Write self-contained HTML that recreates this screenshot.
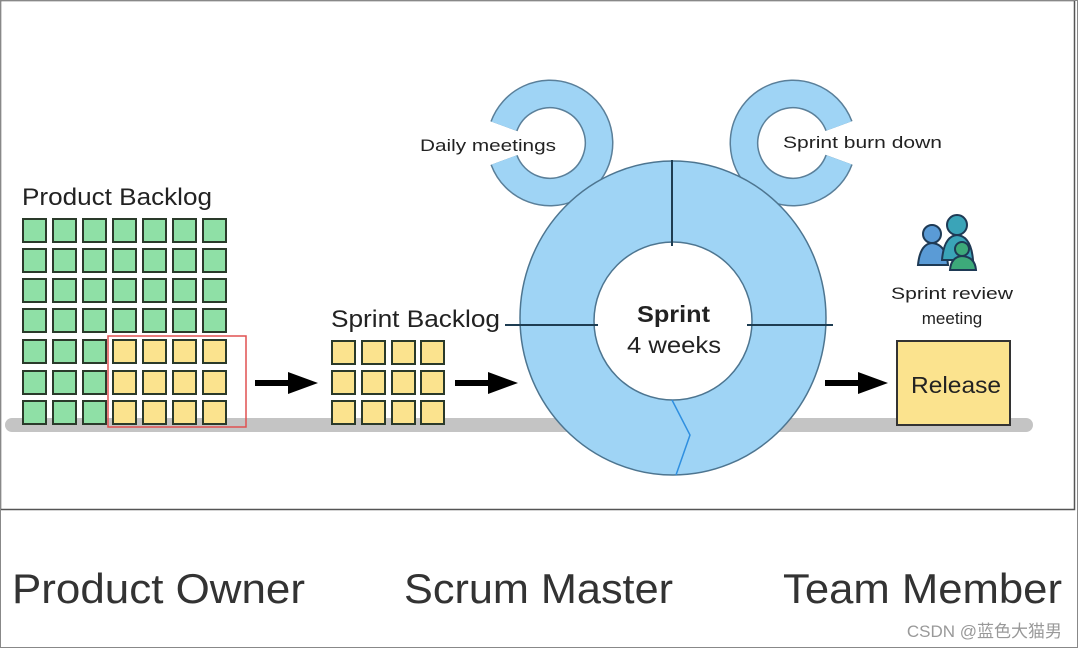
<!DOCTYPE html>
<html><head><meta charset="utf-8"><style>
html,body{margin:0;padding:0;background:#fff;}
svg{display:block;}
</style></head><body>
<svg width="1078" height="648" viewBox="0 0 1078 648" xmlns="http://www.w3.org/2000/svg" font-family="'Liberation Sans','DejaVu Sans',sans-serif">
<rect x="0" y="0" width="1078" height="648" fill="#fff"/>
<rect x="0.5" y="0.5" width="1074" height="509" fill="#fff" stroke="#555" stroke-width="1.5"/>
<rect x="0.5" y="0.5" width="1077" height="647" fill="none" stroke="#888" stroke-width="1"/>
<rect x="5" y="418" width="1028" height="14" rx="7" fill="#c4c4c4"/>
<g fill="none">
<circle cx="550" cy="143" r="49" stroke="#5a7f99" stroke-width="29" stroke-dasharray="273 35" transform="rotate(200 550 143)"/>
<circle cx="550" cy="143" r="49" stroke="#9fd4f5" stroke-width="26" stroke-dasharray="273 35" transform="rotate(200 550 143)"/>
<circle cx="793" cy="143" r="49" stroke="#5a7f99" stroke-width="29" stroke-dasharray="273 35" transform="rotate(20 793 143)"/>
<circle cx="793" cy="143" r="49" stroke="#9fd4f5" stroke-width="26" stroke-dasharray="273 35" transform="rotate(20 793 143)"/>
</g>
<ellipse cx="673" cy="318" rx="153" ry="157" fill="#9fd4f5" stroke="#4d7590" stroke-width="1.5"/>
<circle cx="673" cy="321" r="79" fill="#fff" stroke="#4d7590" stroke-width="1.5"/>
<path d="M672 400 L690 435 L676 475" stroke="#2f8fe0" stroke-width="1.5" fill="none"/>
<g stroke="#1e3d52" stroke-width="2">
<line x1="672" y1="160" x2="672" y2="246"/>
<line x1="505" y1="325" x2="598" y2="325"/>
<line x1="747" y1="325" x2="833" y2="325"/>
</g>
<text x="637" y="322" font-size="23" font-weight="bold" fill="#222" textLength="73" lengthAdjust="spacingAndGlyphs">Sprint</text>
<text x="627" y="353" font-size="23" fill="#222" textLength="94" lengthAdjust="spacingAndGlyphs">4 weeks</text>
<text x="420" y="151" font-size="17" fill="#222" textLength="136" lengthAdjust="spacingAndGlyphs">Daily meetings</text>
<text x="783" y="148" font-size="17" fill="#222" textLength="159" lengthAdjust="spacingAndGlyphs">Sprint burn down</text>
<text x="22" y="205" font-size="24" fill="#222" textLength="190" lengthAdjust="spacingAndGlyphs">Product Backlog</text>
<text x="331" y="327" font-size="24" fill="#222" textLength="169" lengthAdjust="spacingAndGlyphs">Sprint Backlog</text>
<text x="891" y="299" font-size="17" fill="#222" textLength="122" lengthAdjust="spacingAndGlyphs">Sprint review</text>
<text x="952" y="324" font-size="17" fill="#222" text-anchor="middle">meeting</text>
<g stroke="#2a3a2a" stroke-width="2">
<g fill="#8fe0a6">
<rect x="23" y="219" width="23" height="23"/><rect x="53" y="219" width="23" height="23"/><rect x="83" y="219" width="23" height="23"/><rect x="113" y="219" width="23" height="23"/><rect x="143" y="219" width="23" height="23"/><rect x="173" y="219" width="23" height="23"/><rect x="203" y="219" width="23" height="23"/>
<rect x="23" y="249" width="23" height="23"/><rect x="53" y="249" width="23" height="23"/><rect x="83" y="249" width="23" height="23"/><rect x="113" y="249" width="23" height="23"/><rect x="143" y="249" width="23" height="23"/><rect x="173" y="249" width="23" height="23"/><rect x="203" y="249" width="23" height="23"/>
<rect x="23" y="279" width="23" height="23"/><rect x="53" y="279" width="23" height="23"/><rect x="83" y="279" width="23" height="23"/><rect x="113" y="279" width="23" height="23"/><rect x="143" y="279" width="23" height="23"/><rect x="173" y="279" width="23" height="23"/><rect x="203" y="279" width="23" height="23"/>
<rect x="23" y="309" width="23" height="23"/><rect x="53" y="309" width="23" height="23"/><rect x="83" y="309" width="23" height="23"/><rect x="113" y="309" width="23" height="23"/><rect x="143" y="309" width="23" height="23"/><rect x="173" y="309" width="23" height="23"/><rect x="203" y="309" width="23" height="23"/>
<rect x="23" y="340" width="23" height="23"/><rect x="53" y="340" width="23" height="23"/><rect x="83" y="340" width="23" height="23"/>
<rect x="23" y="371" width="23" height="23"/><rect x="53" y="371" width="23" height="23"/><rect x="83" y="371" width="23" height="23"/>
<rect x="23" y="401" width="23" height="23"/><rect x="53" y="401" width="23" height="23"/><rect x="83" y="401" width="23" height="23"/>
</g>
<g fill="#fbe38e">
<rect x="113" y="340" width="23" height="23"/><rect x="143" y="340" width="23" height="23"/><rect x="173" y="340" width="23" height="23"/><rect x="203" y="340" width="23" height="23"/>
<rect x="113" y="371" width="23" height="23"/><rect x="143" y="371" width="23" height="23"/><rect x="173" y="371" width="23" height="23"/><rect x="203" y="371" width="23" height="23"/>
<rect x="113" y="401" width="23" height="23"/><rect x="143" y="401" width="23" height="23"/><rect x="173" y="401" width="23" height="23"/><rect x="203" y="401" width="23" height="23"/>
<rect x="332" y="341" width="23" height="23"/><rect x="362" y="341" width="23" height="23"/><rect x="392" y="341" width="23" height="23"/><rect x="421" y="341" width="23" height="23"/>
<rect x="332" y="371" width="23" height="23"/><rect x="362" y="371" width="23" height="23"/><rect x="392" y="371" width="23" height="23"/><rect x="421" y="371" width="23" height="23"/>
<rect x="332" y="401" width="23" height="23"/><rect x="362" y="401" width="23" height="23"/><rect x="392" y="401" width="23" height="23"/><rect x="421" y="401" width="23" height="23"/>
</g>
</g>
<rect x="108" y="336" width="138" height="91" fill="none" stroke="#e05050" stroke-width="1.5"/>
<g fill="#000">
<path d="M255 380 H288 V372 L318 383 L288 394 V386 H255 Z"/>
<path d="M455 380 H488 V372 L518 383 L488 394 V386 H455 Z"/>
<path d="M825 380 H858 V372 L888 383 L858 394 V386 H825 Z"/>
</g>
<rect x="897" y="341" width="113" height="84" fill="#fbe38e" stroke="#333" stroke-width="2"/>
<text x="911" y="393" font-size="23" fill="#222" textLength="90" lengthAdjust="spacingAndGlyphs">Release</text>
<g stroke="#1e3a55" stroke-width="2">
<circle cx="932" cy="234" r="9" fill="#5a9bd6"/>
<path d="M918 265 Q920 244 932 243 Q946 244 948 265 Z" fill="#5a9bd6"/>
<circle cx="957" cy="225" r="10" fill="#3aa4b8"/>
<path d="M942 260 Q944 236 957 235 Q971 236 973 260 Z" fill="#3aa4b8"/>
<circle cx="962" cy="249" r="7" fill="#3daa7a"/>
<path d="M950 270 Q951 257 962 256 Q975 257 976 270 Z" fill="#3daa7a"/>
</g>
<text x="12" y="603" font-size="42" fill="#333" textLength="293" lengthAdjust="spacingAndGlyphs">Product Owner</text>
<text x="404" y="603" font-size="42" fill="#333" textLength="269" lengthAdjust="spacingAndGlyphs">Scrum Master</text>
<text x="783" y="603" font-size="42" fill="#333" textLength="279" lengthAdjust="spacingAndGlyphs">Team Member</text>
<text x="1062" y="637" font-size="17" fill="#999" text-anchor="end" font-family="'Liberation Sans','Noto Sans CJK SC',sans-serif">CSDN @蓝色大猫男</text>
</svg>
</body></html>
